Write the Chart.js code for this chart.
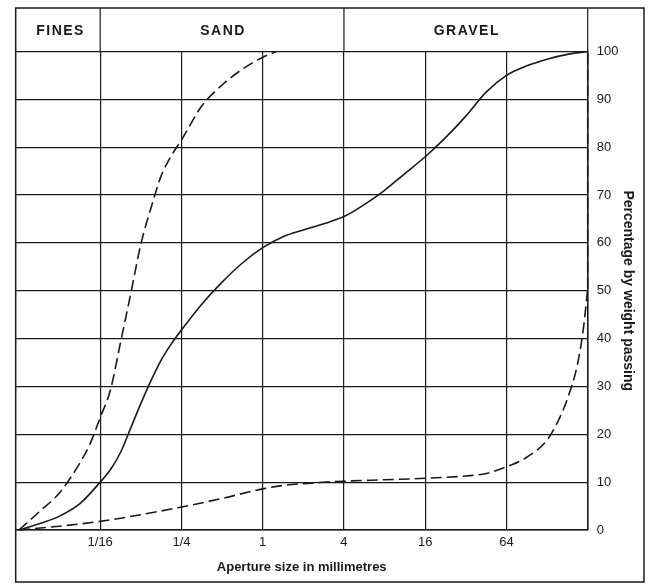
<!DOCTYPE html>
<html>
<head>
<meta charset="utf-8">
<script src="https://cdn.jsdelivr.net/npm/chart.js@4"></script>
<style>
  body { margin: 0; background: #fff; }
  #wrap { width: 650px; height: 584px; position: relative; }
</style>
</head>
<body>
<div id="wrap"><canvas id="graph1"></canvas></div>
<script>
// x positions are log2 of aperture size in mm (1/64 mm .. 256 mm)
var xTickVals = [-4, -2, 0, 2, 4, 6, 8];
var xTickLabels = ['1/16', '1/4', '1', '4', '16', '64', ''];
var bandNames = ['FINES', 'SAND', 'GRAVEL'];
var bandEdges = [-6, -4, 2, 8];

// solid curve
var wellX = [-6, -5.5, -5, -4.5, -4, -3.75, -3.5, -3.25, -3, -2.75, -2.5, -2.25, -2, -1.5, -1, -0.5, 0, 0.5, 1, 1.5, 2, 2.5, 3, 3.5, 4, 4.5, 5, 5.5, 6, 6.5, 7, 7.5, 8];
var wellY = [0, 1.3, 2.9, 5.5, 10, 12.6, 16.2, 21.3, 26.4, 31.2, 35.5, 38.9, 41.8, 47.2, 51.8, 55.8, 59, 61.3, 62.7, 64, 65.5, 68, 71, 74.5, 78, 82, 86.5, 91.5, 95, 97, 98.4, 99.4, 100];

// left dashed curve
var sandX = [-6, -5.5, -5, -4.5, -4.25, -4, -3.75, -3.5, -3.25, -3, -2.75, -2.5, -2.25, -2, -1.5, -1, -0.5, 0, 0.34];
var sandY = [0, 3.8, 7.8, 14, 18, 23.5, 29.2, 39.2, 49.3, 59.7, 67.3, 74, 78.2, 81.5, 88.6, 93, 96.3, 98.8, 100];

// lower dashed curve
var gravelX = [-6, -5, -4, -3, -2, -1, 0, 0.5, 1, 2, 3, 4, 5, 5.5, 6, 6.5, 7, 7.25, 7.5, 7.75, 7.9, 8];
var gravelY = [0, 0.8, 1.8, 3.2, 4.8, 6.6, 8.6, 9.3, 9.7, 10.2, 10.5, 10.8, 11.3, 11.8, 13.2, 15.2, 18.8, 22.4, 27.4, 34.7, 42.5, 50.5];
var gravelEdgeX = [8, 8];
var gravelEdgeY = [50.5, 100];

var ink = '#1a1a1a';
var font = "'Liberation Sans', Arial, sans-serif";

function pts(xs, ys) {
    var out = [];
    for (var i = 0; i < xs.length; i++) out.push({x: xs[i], y: ys[i]});
    return out;
}

function lineSet(xs, ys, dash) {
    return {
        data: pts(xs, ys),
        borderColor: ink,
        borderWidth: 1.6,
        borderDash: dash,
        pointRadius: 0,
        fill: false,
        clip: 4,
        cubicInterpolationMode: 'monotone'
    };
}

var frame = {
    id: 'frame',
    afterDraw: function (chart) {
        var c = chart.ctx, a = chart.chartArea, xs = chart.scales.x;
        c.save();
        c.strokeStyle = ink;
        c.lineWidth = 1.5;
        c.strokeRect(a.left, 8, 644 - a.left, 574);
        c.lineWidth = 1.2;
        c.beginPath();
        for (var i = 1; i < bandEdges.length; i++) {
            var px = xs.getPixelForValue(bandEdges[i]);
            c.moveTo(px, 8);
            c.lineTo(px, a.top);
        }
        c.stroke();
        c.fillStyle = ink;
        c.font = 'bold 14px ' + font;
        c.letterSpacing = '1.5px';
        c.textAlign = 'center';
        c.textBaseline = 'middle';
        for (var j = 0; j < bandNames.length; j++) {
            var l = xs.getPixelForValue(bandEdges[j]);
            var r = xs.getPixelForValue(bandEdges[j + 1]);
            c.fillText(bandNames[j], (l + r) / 2 + 1, (8 + a.top) / 2 + 1);
        }
        c.restore();
    }
};

var ctx1 = document.getElementById('graph1');
var graph1 = new Chart(ctx1, {
    type: 'line',
    data: {
        datasets: [
            lineSet(wellX, wellY, []),
            lineSet(sandX, sandY, [11, 5]),
            lineSet(gravelX, gravelY, [11, 5]),
            lineSet(gravelEdgeX, gravelEdgeY, [11, 5])
        ]
    },
    options: {
        responsive: true,
        maintainAspectRatio: false,
        animation: false,
        layout: { padding: { top: 51.5, left: 15.7, right: 0, bottom: 0 } },
        plugins: { legend: { display: false }, tooltip: { enabled: false } },
        scales: {
            x: {
                type: 'linear',
                min: -6.08,
                max: 8,
                afterBuildTicks: function (axis) {
                    axis.ticks = xTickVals.map(function (v) { return {value: v}; });
                },
                afterFit: function (axis) { axis.height = 54; },
                grid: { color: ink, lineWidth: 1.2, drawTicks: false },
                border: { color: ink, width: 1.5 },
                ticks: {
                    autoSkip: false,
                    maxRotation: 0,
                    padding: 5,
                    color: ink,
                    font: { family: font, size: 13 },
                    callback: function (v) {
                        var i = xTickVals.indexOf(v);
                        return i < 0 ? '' : xTickLabels[i];
                    }
                },
                title: {
                    display: true,
                    text: 'Aperture size in millimetres',
                    color: ink,
                    font: { family: font, size: 13, weight: 'bold' },
                    padding: { top: 0, bottom: 8.5 }
                }
            },
            y: {
                position: 'right',
                min: 0,
                max: 100,
                afterFit: function (axis) { axis.width = 62.3; },
                grid: { color: ink, lineWidth: 1.2, drawTicks: false },
                border: { color: ink, width: 1.5 },
                ticks: {
                    stepSize: 10,
                    padding: 9,
                    color: ink,
                    font: { family: font, size: 13 }
                },
                title: {
                    display: true,
                    text: 'Percentage by weight passing',
                    color: ink,
                    font: { family: font, size: 14, weight: 'bold' },
                    padding: { top: 14, bottom: 0 }
                }
            }
        }
    },
    plugins: [frame]
});
</script>
</body>
</html>
